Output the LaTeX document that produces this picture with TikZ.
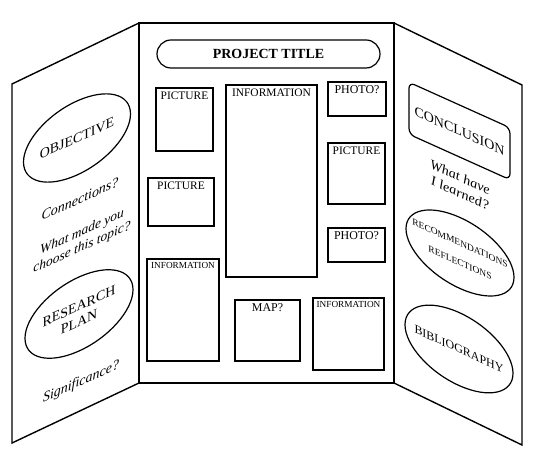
\documentclass[tikz,border=0pt]{standalone}
\usepackage{fontspec}
\setmainfont{Liberation Serif}
\usetikzlibrary{shapes.geometric}
\begin{document}
\begin{tikzpicture}[x=1bp,y=1bp,
  panel/.style={draw, line width=1.4bp, line join=miter},
  box/.style={draw, line width=1.1bp, inner sep=0pt},
  boxlabel/.style args={#1/#2}{label={[anchor=north,yshift=-4bp,inner sep=0pt,font=\fontsize{#2}{#2}\selectfont]north:#1}},
  oval/.style={draw, ellipse, line width=1.2bp, inner sep=0pt},
  sidetxt/.style={font=\fontsize{14}{16}\selectfont, align=center, inner sep=0pt},
  lside/.style={yslant=0.45},
  rside/.style={yslant=-0.45}]
\useasboundingbox (0,0) rectangle (558,464);
% panels
\coordinate (lt) at (12,380);
\coordinate (ct) at (139,441);
\coordinate (cb) at (139,81);
\coordinate (lb) at (12,21);
\coordinate (dt) at (394,441);
\coordinate (db) at (394,81);
\coordinate (rt) at (522,379);
\coordinate (rb) at (522,19);
\draw[panel] (ct) -- (lt) -- (lb) -- (cb);
\draw[panel] (dt) -- (rt) -- (rb) -- (db);
\draw[panel] (ct) rectangle (db);
% title
\node[draw, line width=1.2bp, rounded corners=14bp, minimum width=223bp, minimum height=28bp,
  font=\fontsize{14}{16}\selectfont\bfseries] (title) at (268.5,410) {PROJECT TITLE};
% center boxes
\node[box, minimum width=57bp, minimum height=63bp, boxlabel={PICTURE/11.5}] (pic1) at (184.5,344.5) {};
\node[box, minimum width=66bp, minimum height=48bp, boxlabel={PICTURE/11.5}] (pic2) at (181,262) {};
\node[box, minimum width=91bp, minimum height=192bp, boxlabel={INFORMATION/11.5}] (info1) at (271.5,283) {};
\node[box, minimum width=58bp, minimum height=34bp, boxlabel={PHOTO?/12}] (photo1) at (357,365) {};
\node[box, minimum width=57bp, minimum height=61bp, boxlabel={PICTURE/11.5}] (pic3) at (356.5,290.5) {};
\node[box, minimum width=57bp, minimum height=34bp, boxlabel={PHOTO?/12}] (photo2) at (356.5,219) {};
\node[box, minimum width=72bp, minimum height=102bp, boxlabel={INFORMATION/9.3}] (info2) at (183,154) {};
\node[box, minimum width=65bp, minimum height=61bp, boxlabel={MAP?/12}] (map) at (267.5,133.5) {};
\node[box, minimum width=71bp, minimum height=72bp, boxlabel={INFORMATION/9.3}] (info3) at (348.5,130) {};
% left panel
\node[oval, lside, minimum width=107bp, minimum height=74bp] (objO) at (77,326) {};
\node[sidetxt, lside] (obj) at (objO.center) {OBJECTIVE};
\node[sidetxt, lside, font=\fontsize{14}{16}\selectfont\itshape] (conn) at (80,265) {Connections?};
\node[sidetxt, lside, font=\fontsize{13.5}{15.5}\selectfont\itshape] (why) at (82,224) {What made you\\choose this topic?};
\node[oval, lside, minimum width=108bp, minimum height=74bp] (planO) at (79,150) {};
\node[sidetxt, lside] (plan) at (planO.center) {RESEARCH\\PLAN};
\node[sidetxt, lside, font=\fontsize{14}{16}\selectfont\itshape] (sig) at (81,82) {Significance?};
% right panel
\node[draw, line width=1.2bp, rounded corners=6bp, rside, minimum width=101bp, minimum height=52bp, inner sep=0pt,
  font=\fontsize{14}{16}\selectfont] (concl) at (459.5,333) {CONCLUSION};
\node[sidetxt, rside, font=\fontsize{14}{16}\selectfont\itshape] (learn) at (460,279) {What have\\I learned?};
\node[oval, rside, minimum width=108bp, minimum height=71bp] (recO) at (460,211) {};
\node[sidetxt, rside, font=\fontsize{9.5}{20}\selectfont] (rec) at (recO.center) {RECOMMENDATIONS\\REFLECTIONS};
\node[oval, rside, minimum width=108bp, minimum height=73bp] (bibO) at (459,115) {};
\node[sidetxt, rside, font=\fontsize{12}{14}\selectfont] (bib) at (bibO.center) {BIBLIOGRAPHY};
\end{tikzpicture}
\end{document}
